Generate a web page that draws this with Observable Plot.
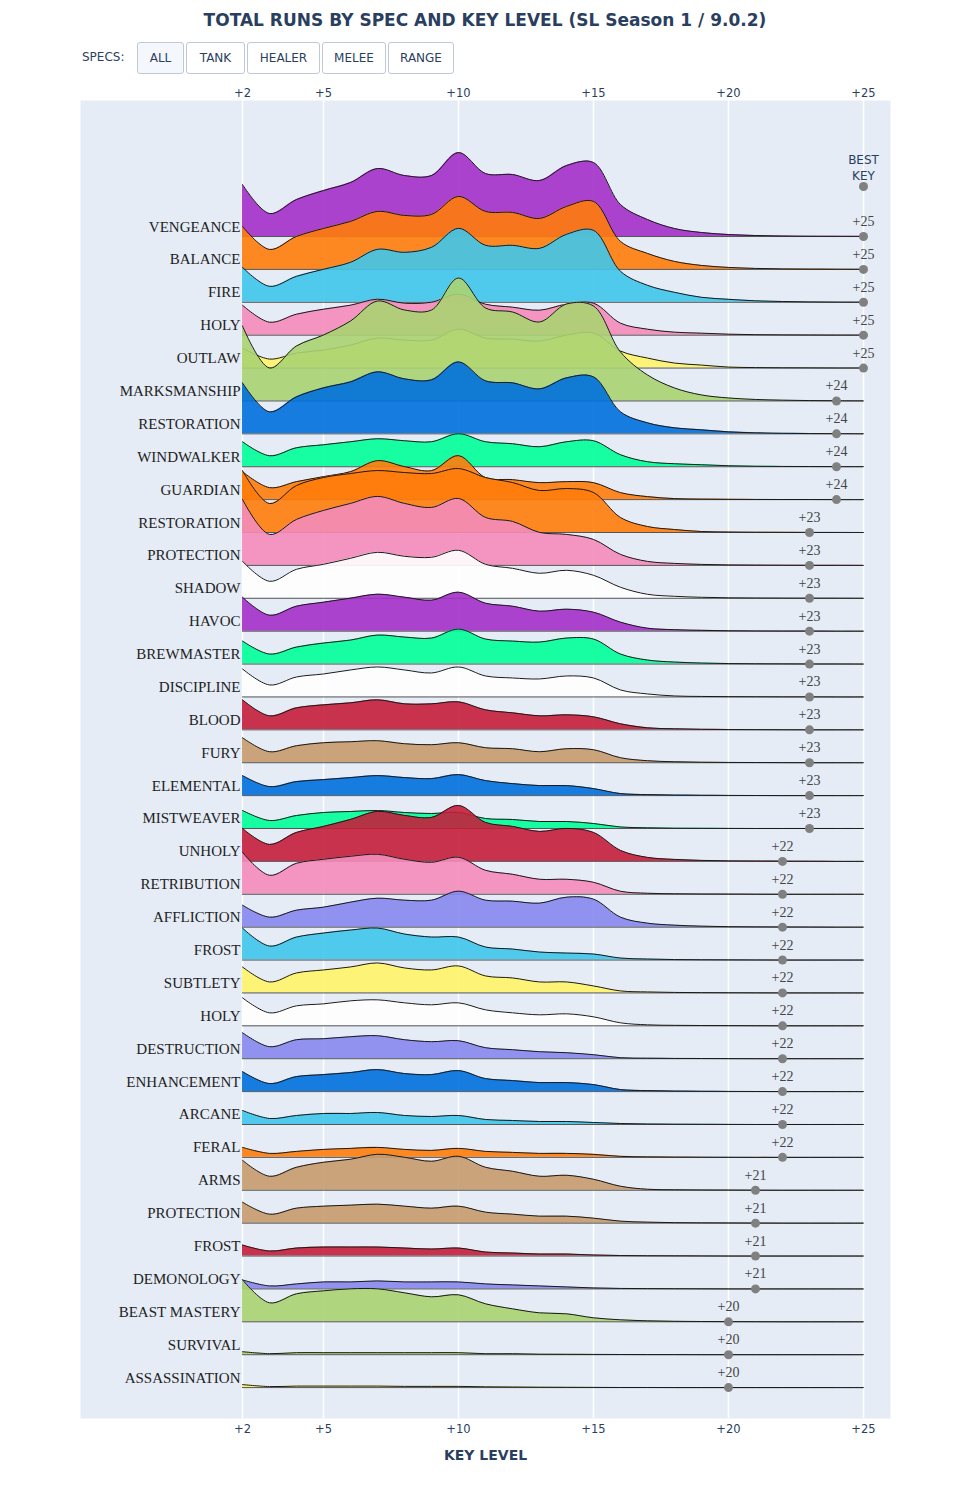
<!DOCTYPE html>
<html>
<head>
<meta charset="utf-8">
<script src="https://cdn.jsdelivr.net/npm/d3@7"></script>
<script src="https://cdn.jsdelivr.net/npm/@observablehq/plot@0.6"></script>
<style>
  body { margin: 0; background: #fff; }
  #wrap { position: relative; width: 970px; }
  #header { position: relative; height: 80px; font-family: "DejaVu Sans", Verdana, sans-serif; color: #2a3f5f; }
  #title { position: absolute; top: 10px; left: 0; width: 970px; text-align: center; font-size: 17px; font-weight: bold; }
  #specs { position: absolute; left: 82px; top: 50px; font-size: 12px; }
  .btn { position: absolute; top: 42px; height: 32px; box-sizing: border-box; border: 1px solid #BEC8D9; border-radius: 3px; background: #fff; font-size: 12px; line-height: 30px; text-align: center; color: #2a3f5f; }
  .btn.active { background: #F4F7FC; }
  #chart svg { display: block; }
</style>
</head>
<body>
<div id="wrap">
  <div id="header">
    <div id="title">TOTAL RUNS BY SPEC AND KEY LEVEL (SL Season 1 / 9.0.2)</div>
    <div id="specs">SPECS:</div>
    <div id="buttons"></div>
  </div>
  <div id="chart"></div>
</div>
<script>
// ---- Data ----
const keyLevels = [2,3,4,5,6,7,8,9,10,11,12,13,14,15,16,17,18,19,20,21,22,23,24,25];
const axisTicks = [2,5,10,15,20,25];

const specNames = ["VENGEANCE","BALANCE","FIRE","HOLY","OUTLAW","MARKSMANSHIP","RESTORATION","WINDWALKER","GUARDIAN","RESTORATION","PROTECTION","SHADOW","HAVOC","BREWMASTER","DISCIPLINE","BLOOD","FURY","ELEMENTAL","MISTWEAVER","UNHOLY","RETRIBUTION","AFFLICTION","FROST","SUBTLETY","HOLY","DESTRUCTION","ENHANCEMENT","ARCANE","FERAL","ARMS","PROTECTION","FROST","DEMONOLOGY","BEAST MASTERY","SURVIVAL","ASSASSINATION"];
const specClasses = ["Demon Hunter","Druid","Mage","Paladin","Rogue","Hunter","Shaman","Monk","Druid","Druid","Paladin","Priest","Demon Hunter","Monk","Priest","Death Knight","Warrior","Shaman","Monk","Death Knight","Paladin","Warlock","Mage","Rogue","Priest","Warlock","Shaman","Mage","Druid","Warrior","Warrior","Death Knight","Warlock","Hunter","Hunter","Rogue"];
const bestKeys = [25,25,25,25,25,24,24,24,24,23,23,23,23,23,23,23,23,23,23,22,22,22,22,22,22,22,22,22,22,21,21,21,21,20,20,20];

const classNames  = ["Demon Hunter","Druid","Mage","Paladin","Rogue","Hunter","Shaman","Monk","Priest","Death Knight","Warrior","Warlock"];
const classColors = ["#A330C9","#FF7C0A","#3FC7EB","#F48CBA","#FFF468","#AAD372","#0070DD","#00FF98","#FFFFFF","#C41E3A","#C69B6D","#8788EE"];

// relative run counts per key level (+2 .. +25)
const vengeance     = [52,23,37,46,54,68,61,61,84,63,62,56,71,74,32,17,8,4,2,1,0.5,0.3,0.2,0.1];
const balance       = [43,20,33,41,48,58,54,55,73,58,57,51,63,68,28,16,8,4,2,1,0.5,0.3,0.2,0.1];
const fire          = [35,16,26,33,40,53,50,55,74,57,57,54,68,72,31,17,10,5,3,1.5,0.8,0.4,0.2,0.1];
const holyPaladin   = [30,13,21,26,30,36,32,33,41,31,28,25,31,32,12,6,3,2,1,0.5,0.3,0.2,0.1,0.1];
const outlaw        = [20,9,15,18,23,30,28,28,39,30,29,27,33,35,17,10,5,3,1,0.5,0.3,0.2,0.1,0.1];
const marksmanship  = [75,33,55,66,80,100,91,91,123,93,89,79,97,95,49,26,13,6,3,1.5,0.8,0.4,0.2,0.1];
const restoShaman   = [51,22,37,46,52,62,55,54,72,53,51,45,56,57,22,11,6,4,2,1,0.5,0.3,0.2,0.1];
const windwalker    = [25,11,19,22,25,28,26,25,33,25,23,20,25,26,12,5,3,2,1,0.5,0.3,0.2,0.1,0.1];
const guardian      = [28,12,18,23,28,39,33,29,44,22,20,17,18,17,7,3,1,0.5,0.3,0.2,0.1,0.1,0,0];
const restoDruid    = [62,29,47,55,59,62,60,59,64,55,50,42,44,40,15,6,3,1,0.5,0.3,0.2,0.1,0.1,0];
const protPaladin   = [66,31,46,55,62,69,62,58,67,48,44,33,31,26,11,4,2,1,0.5,0.3,0.2,0.1,0.1,0];
const shadow        = [37,17,29,34,40,46,42,41,48,34,30,25,28,23,11,4,2,1,0.5,0.3,0.2,0.1,0.1,0];
const havoc         = [34,16,25,29,33,37,34,31,39,28,25,20,22,19,9,3,1.5,0.8,0.4,0.2,0.1,0.1,0,0];
const brewmaster    = [23,10,17,21,24,29,27,26,35,25,23,22,26,25,10,4,2,1,0.5,0.3,0.2,0.1,0.1,0];
const discipline    = [28,12,20,23,27,30,27,24,30,21,19,18,21,19,7,3,1,0.5,0.3,0.2,0.1,0.1,0,0];
const blood         = [30,14,22,25,27,30,26,26,28,20,17,14,15,13,6,2,1,0.5,0.3,0.2,0.1,0,0,0];
const fury          = [25,11,17,20,21,22,19,18,20,15,14,11,14,13,5,2,1,0.5,0.3,0.2,0.1,0,0,0];
const elemental     = [20,9,14,16,18,20,18,17,21,15,12,10,10,7,2,1,0.5,0.3,0.2,0.1,0,0,0,0];
const mistweaver    = [18,8,13,16,17,18,16,15,16,10,9,7,7,5,1.5,0.7,0.3,0.2,0.1,0,0,0,0,0];
const unholy        = [33,17,29,35,42,50,46,44,56,39,35,30,33,29,11,4,2,1,0.5,0.3,0.2,0.1,0,0];
const retribution   = [42,19,31,35,38,40,35,32,37,24,20,15,15,12,3,1,0.5,0.3,0.2,0.1,0,0,0,0];
const affliction    = [22,10,17,20,25,29,27,27,36,27,26,24,30,28,10,4,2,1,0.5,0.3,0.2,0.1,0,0];
const frostMage     = [32,14,23,27,30,32,26,23,23,13,11,8,7,6,2,1,0.5,0.3,0.2,0.1,0,0,0,0];
const subtlety      = [26,11,20,23,26,30,25,23,27,17,15,11,11,7,2,1,0.5,0.3,0.2,0.1,0,0,0,0];
const holyPriest    = [28,13,20,22,25,26,23,21,23,16,13,11,12,9,3,1,0.5,0.3,0.2,0.1,0,0,0,0];
const destruction   = [26,12,19,20,22,23,19,17,18,11,9,7,6,4,1,0.5,0.3,0.2,0.1,0,0,0,0,0];
const enhancement   = [20,8,15,17,19,22,18,17,21,13,11,9,9,7,2,1,0.5,0.3,0.2,0.1,0,0,0,0];
const arcane        = [14,6,9,11,11,12,9,8,9,5,4,3,3,2,1,0.5,0.3,0.2,0.1,0,0,0,0,0];
const feral         = [10,4,6,8,9,10,8,7,9,6,5,4,4,3,1,0.5,0.3,0.2,0.1,0,0,0,0,0];
const arms          = [30,14,23,28,31,36,33,29,34,23,19,14,15,11,4,1,0.5,0.3,0.2,0.1,0,0,0,0];
const protWarrior   = [21,9,15,17,18,19,17,15,17,11,9,7,7,5,2,1,0.5,0.3,0.2,0.1,0,0,0,0];
const frostDK       = [11,5,8,9,9,9,8,7,8,4,3,2,2,1,0.5,0.3,0.2,0.1,0,0,0,0,0,0];
const demonology    = [9,3,5,7,7,8,7,7,7,5,4,3,2,1,0.5,0.3,0.2,0.1,0,0,0,0,0,0];
const beastMastery  = [42,19,28,31,33,33,29,25,27,18,13,9,8,4,2,1,0.5,0.3,0.2,0.1,0,0,0,0];
const survival      = [3,1,2,2,2,2,2,2,2,1,1,0.5,0.4,0.3,0.2,0.1,0.1,0,0,0,0,0,0,0];
const assassination = [3,1,1.5,1.5,1.5,1.5,1.2,1.2,1.2,0.8,0.6,0.4,0.3,0.2,0.1,0.1,0,0,0,0,0,0,0,0];

const seriesList = [vengeance,balance,fire,holyPaladin,outlaw,marksmanship,restoShaman,windwalker,guardian,restoDruid,protPaladin,shadow,havoc,brewmaster,discipline,blood,fury,elemental,mistweaver,unholy,retribution,affliction,frostMage,subtlety,holyPriest,destruction,enhancement,arcane,feral,arms,protWarrior,frostDK,demonology,beastMastery,survival,assassination];

// ---- Build chart ----
const RUNS_PER_ROW = 32.9;  // run value that equals one ridge spacing
const colorOf = c => classColors[classNames.indexOf(c)];

const rows = specNames.map((name, i) => ({
  name, row: i, best: bestKeys[i], color: colorOf(specClasses[i]),
  points: keyLevels.map((k, j) => ({key: k, row: i, v: seriesList[i][j]}))
}));

const ridgeMarks = rows.flatMap(r => [
  Plot.areaY(r.points, {x: "key", y1: d => d.row, y2: d => d.row - d.v / RUNS_PER_ROW, fill: r.color, fillOpacity: 0.9, curve: "catmull-rom"}),
  Plot.ruleY([r.row], {y: d => d, x1: () => keyLevels[0], x2: () => keyLevels[keyLevels.length - 1], stroke: "#555", strokeWidth: 1}),
  Plot.lineY(r.points, {x: "key", y: d => d.row - d.v / RUNS_PER_ROW, stroke: "#1a1a1a", strokeWidth: 1, curve: "catmull-rom"})
]);

const serif = "'Liberation Serif', 'Times New Roman', serif";
const sans = "'DejaVu Sans', Verdana, sans-serif";

const chart = Plot.plot({
  width: 970,
  height: 1420,
  marginLeft: 80,
  marginRight: 80,
  marginTop: 20,
  marginBottom: 82,
  style: {fontFamily: sans, fontSize: "11.5px", color: "#2a3f5f", background: "#fff", overflow: "visible"},
  x: {domain: [-4, 26]},
  y: {domain: [35.94, -4.136], axis: null},
  marks: [
    Plot.frame({fill: "#E5ECF6", stroke: "none"}),
    Plot.gridX(axisTicks, {stroke: "#fff", strokeOpacity: 1, strokeWidth: 1.5}),
    Plot.axisX(axisTicks, {anchor: "top", tickSize: 0, tickPadding: 4, tickFormat: d => "+" + d, label: null, fontSize: 11.5}),
    Plot.axisX(axisTicks, {anchor: "bottom", tickSize: 0, tickPadding: 6, tickFormat: d => "+" + d, label: null, fontSize: 11.5}),
    ...ridgeMarks,
    Plot.dot(rows, {x: "best", y: "row", r: 4.5, fill: "#808080", stroke: "none"}),
    Plot.text(rows, {x: "best", y: "row", text: d => "+" + d.best, dy: -15, fontFamily: serif, fontSize: 14, fill: "#444"}),
    Plot.dot([-1.52], {x: () => keyLevels[keyLevels.length - 1], y: d => d, r: 4.5, fill: "#808080", stroke: "none"}),
    Plot.text([-1.52], {x: () => keyLevels[keyLevels.length - 1], y: d => d, text: () => "BEST\nKEY", lineAnchor: "bottom", dy: -7, lineHeight: 1.33, fontSize: 12, fill: "#2a3f5f"}),
    Plot.text(rows, {x: () => keyLevels[0], y: "row", text: "name", textAnchor: "end", lineAnchor: "bottom", dx: -2, dy: -5, fontFamily: serif, fontSize: 15, fill: "#222"}),
    Plot.text(["KEY LEVEL"], {frameAnchor: "bottom", dy: 41, text: d => d, fontWeight: "bold", fontSize: 14, fill: "#2a3f5f"})
  ]
});
document.getElementById("chart").appendChild(chart);

// ---- Header buttons ----
const buttonLabels = ["ALL","TANK","HEALER","MELEE","RANGE"];
const buttonWidths = [47, 59, 73, 64, 66];
let bx = 137;
const btnWrap = document.getElementById("buttons");
buttonLabels.forEach((lab, i) => {
  const b = document.createElement("div");
  b.className = "btn" + (i === 0 ? " active" : "");
  b.style.left = bx + "px";
  b.style.width = buttonWidths[i] + "px";
  b.textContent = lab;
  btnWrap.appendChild(b);
  bx += buttonWidths[i] + 2;
});
</script>
</body>
</html>
